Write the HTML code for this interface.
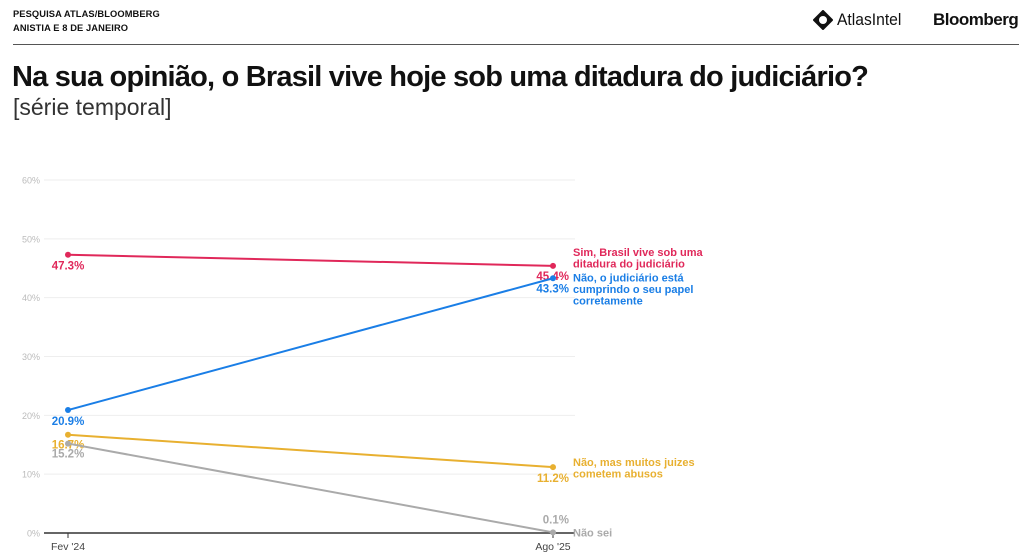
<!DOCTYPE html>
<html><head><meta charset="utf-8"><style>
body{margin:0;width:1024px;height:557px;background:#fff;font-family:"Liberation Sans",sans-serif;overflow:hidden;position:relative;color:#111}
.hdr{position:absolute;left:13px;font-size:9.5px;font-weight:bold;letter-spacing:0.1px;transform:scaleX(0.98);transform-origin:left;white-space:nowrap}
</style></head><body>
<div class="hdr" style="top:9px">PESQUISA ATLAS/BLOOMBERG</div>
<div class="hdr" style="top:23px">ANISTIA E 8 DE JANEIRO</div>
<div style="position:absolute;left:813px;top:10px;font-size:17px;display:flex;align-items:center;gap:4px">
<svg width="20" height="20" viewBox="0 0 20 20"><path d="M10 1 L19 10 L10 19 L1 10 Z" fill="#111" stroke="#111" stroke-width="2" stroke-linejoin="round"/><circle cx="10" cy="10" r="4" fill="#fff"/></svg><span style="transform:scaleX(0.92);display:inline-block;transform-origin:left">AtlasIntel</span></div>
<div style="position:absolute;left:933px;top:10px;font-size:17px;font-weight:bold;letter-spacing:-0.5px">Bloomberg</div>
<div style="position:absolute;left:13px;top:44px;width:1006px;height:1px;background:#555"></div>
<div style="position:absolute;left:12px;top:61px;font-size:29px;font-weight:bold;letter-spacing:-0.8px;transform:scaleX(1.0);transform-origin:left;white-space:nowrap">Na sua opinião, o Brasil vive hoje sob uma ditadura do judiciário?</div>
<div style="position:absolute;left:13px;top:94px;font-size:23px;color:#333;white-space:nowrap">[série temporal]</div>
<svg id="chart" width="1024" height="557" style="position:absolute;left:0;top:0"></svg>
<script>
const categories=["Fev '24","Ago '25"];
const yTicks=[0,10,20,30,40,50,60];
const simVals=[47.3,45.4];
const naoVals=[20.9,43.3];
const juizesVals=[16.7,11.2];
const naoSeiVals=[15.2,0.1];
const NS="http://www.w3.org/2000/svg";
const svg=document.getElementById('chart');
const x=i=>68+i*485;
const y=v=>533-v*(353/60);
function el(t,a,txt){const e=document.createElementNS(NS,t);for(const k in a)e.setAttribute(k,a[k]);if(txt!==undefined)e.textContent=txt;svg.appendChild(e);return e;}
yTicks.forEach(t=>{
 if(t>0){const g=el('line',{x1:44,x2:575,y1:y(t),y2:y(t),stroke:'#eee','stroke-width':1});
 
 }
 const l=el('text',{x:40,y:y(t)+3.5,'text-anchor':'end','font-size':9,fill:'#bbb','font-family':'Liberation Sans'},t+'%');
 
 
});
const ax=el('line',{x1:44,x2:575,y1:y(0),y2:y(0),stroke:'#333','stroke-width':1.5});


categories.forEach((c,i)=>{
 el('line',{x1:x(i),x2:x(i),y1:y(0),y2:y(0)+5,stroke:'#333'});
 const t=el('text',{x:x(i),y:550,'text-anchor':'middle','font-size':10.5,fill:'#444','font-family':'Liberation Sans'},c);
 
 
});
const series=[
 {name:'sim',vals:simVals,c:'#e0285a',lab:['Sim, Brasil vive sob uma','ditadura do judiciário'],ly:y(simVals[1])-10,off:[15,14]},
 {name:'nao',vals:naoVals,c:'#1a7ee6',lab:['Não, o judiciário está','cumprindo o seu papel','corretamente'],ly:y(naoVals[1])+3,off:[15,14]},
 {name:'juizes',vals:juizesVals,c:'#e8b030',lab:['Não, mas muitos juizes','cometem abusos'],ly:y(juizesVals[1])-1,off:[14,15]},
 {name:'nao-sei',vals:naoSeiVals,c:'#aaa',lab:['Não sei'],ly:y(naoSeiVals[1])+4,off:[14,-9]}
];
series.forEach(s=>{
 const ln=el('polyline',{points:s.vals.map((v,i)=>x(i)+','+y(v)).join(' '),fill:'none',stroke:s.c,'stroke-width':2});
 
 
 s.vals.forEach((v,i)=>{
  const d=el('circle',{cx:x(i),cy:y(v),r:3,fill:s.c});
  
  
  const lt=el('text',{x:i?x(i)+16:x(i),y:y(v)+s.off[i],'text-anchor':i?'end':'middle','font-size':11.5,'font-weight':'bold',fill:s.c,'font-family':'Liberation Sans'},v.toFixed(1)+'%');
  
  
 });
 s.lab.forEach((t,k)=>{
  const tx=el('text',{x:573,y:s.ly+k*11.5,'font-size':11,'font-weight':'bold',fill:s.c,'font-family':'Liberation Sans'},t);
  
  
 });
});
</script>
</body></html>
